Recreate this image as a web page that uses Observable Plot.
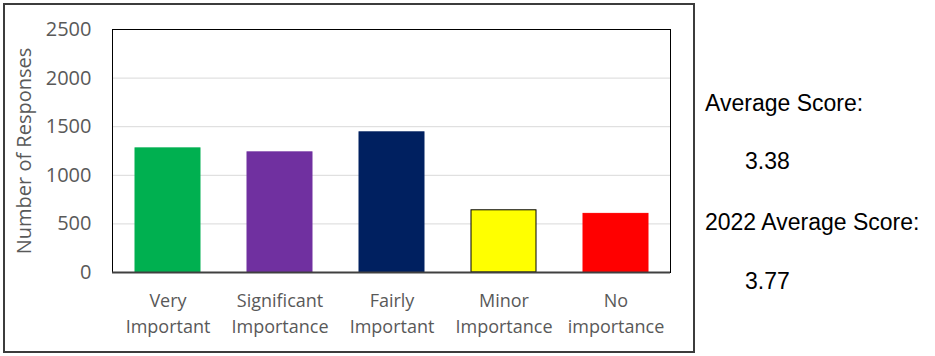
<!DOCTYPE html>
<html>
<head>
<meta charset="utf-8">
<script src="https://cdn.jsdelivr.net/npm/d3@7"></script>
<script src="https://cdn.jsdelivr.net/npm/@observablehq/plot@0.6"></script>
<style>
  html, body { margin: 0; padding: 0; background: #fff; }
  #wrap { position: relative; width: 935px; height: 356px; }
  #chart { position: absolute; left: 0; top: 0; }
  #box { position: absolute; left: 3px; top: 3px; width: 688px; height: 346px; border: 2px solid #3c3c3c; pointer-events: none; }
  .score { position: absolute; font-family: "Liberation Sans", Arial, sans-serif; font-size: 23px; color: #000; white-space: nowrap; line-height: 1; }
</style>
</head>
<body>
<div id="wrap">
  <div id="chart"></div>
  <div id="box"></div>
</div>
<script>
const categories = ["Very Important", "Significant Importance", "Fairly Important", "Minor Importance", "No importance"];
const responses = [1277, 1236, 1442, 640, 603];
const barColors = ["#00b050", "#7030a0", "#002060", "#ffff00", "#ff0000"];
const barStrokes = ["#00b050", "#7030a0", "#002060", "#000000", "#ff0000"];
const yTicks = [0, 500, 1000, 1500, 2000, 2500];
const gridTicks = [500, 1000, 1500, 2000];
const yLabel = "Number of Responses";
const scoreLabels = ["Average Score:", "2022 Average Score:"];
const scoreValues = ["3.38", "3.77"];

const data = categories.map((c, i) => ({cat: c, value: responses[i], fill: barColors[i], stroke: barStrokes[i]}));

const chart = Plot.plot({
  width: 700,
  height: 356,
  marginLeft: 112,
  marginRight: 30,
  marginTop: 29,
  marginBottom: 84,
  style: {fontFamily: "'Open Sans', sans-serif", background: "transparent"},
  x: {domain: categories, paddingInner: 0.42, paddingOuter: 0.2},
  y: {domain: [0, 2500]},
  marks: [
    Plot.gridY(gridTicks, {stroke: "#d9d9d9", strokeOpacity: 1}),
    Plot.barY(data, {x: "cat", y: "value", fill: "fill", stroke: "stroke", strokeWidth: 1}),
    Plot.frame({stroke: "#000", strokeWidth: 1}),
    Plot.ruleY([0], {stroke: "#404040", strokeWidth: 2}),
    Plot.axisY({ticks: yTicks, tickSize: 0, tickPadding: 21, fontSize: 20, fill: "#595959", label: null,
      tickFormat: d => String(d)}),
    Plot.axisX({tickSize: 0, tickPadding: 16, fontSize: 18, fill: "#595959", label: null, lineHeight: 1.45,
      tickFormat: d => d.replace(" ", "\n")}),
    Plot.text([yLabel], {frameAnchor: "left", rotate: -90, dx: -88, textAnchor: "middle", text: d => d, fontSize: 20, fill: "#595959"})
  ]
});
document.getElementById("chart").appendChild(chart);

const wrap = document.getElementById("wrap");
const pos = [
  {x: 705, base: 113},
  {x: 745, base: 171},
  {x: 705, base: 232},
  {x: 745, base: 291}
];
const texts = [scoreLabels[0], scoreValues[0], scoreLabels[1], scoreValues[1]];
texts.forEach((t, i) => {
  const el = document.createElement("div");
  el.className = "score";
  el.textContent = t;
  el.style.left = pos[i].x + "px";
  el.style.top = (pos[i].base - 0.905 * 23) + "px";
  wrap.appendChild(el);
});
</script>
</body>
</html>
